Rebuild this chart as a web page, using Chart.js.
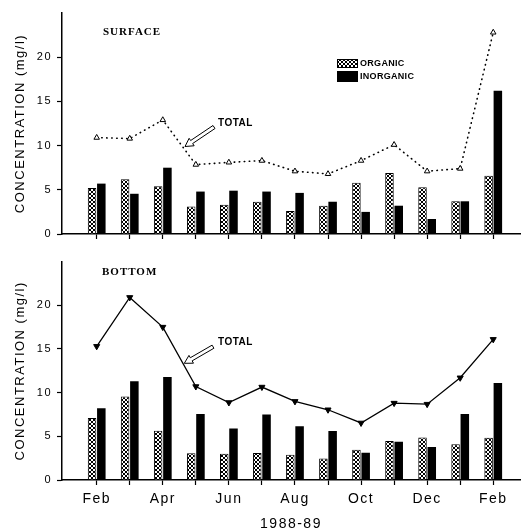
<!DOCTYPE html>
<html>
<head>
<meta charset="utf-8">
<title>Concentration 1988-89</title>
<script src="https://cdn.jsdelivr.net/npm/chart.js@4/dist/chart.umd.min.js"></script>
<style>
  body { margin: 0; background: #fff; }
  canvas { display: block; }
</style>
</head>
<body>
<canvas id="surfaceChart" width="527" height="250"></canvas>
<canvas id="bottomChart" width="527" height="280"></canvas>
<script>
// --- datos (mg/l) ---
const months = ['Feb', 'Mar', 'Apr', 'May', 'Jun', 'Jul', 'Aug', 'Sep', 'Oct', 'Nov', 'Dec', 'Jan', 'Feb'];
const yTicks = [0, 5, 10, 15, 20];

const surfaceOrganic   = [5.2, 6.2, 5.4, 3.1, 3.3, 3.65, 2.6, 3.2, 5.8, 6.9, 5.3, 3.7, 6.6];
const surfaceInorganic = [5.7, 4.55, 7.5, 4.8, 4.9, 4.8, 4.65, 3.65, 2.5, 3.2, 1.7, 3.7, 16.2];
const surfaceTotal     = [10.9, 10.8, 12.9, 7.85, 8.1, 8.3, 7.1, 6.8, 8.3, 10.1, 7.1, 7.4, 22.8];

const bottomOrganic    = [7.1, 9.55, 5.65, 3.06, 3.0, 3.1, 2.9, 2.45, 3.47, 4.45, 4.87, 4.08, 4.83];
const bottomInorganic  = [8.2, 11.3, 11.8, 7.55, 5.9, 7.5, 6.15, 5.6, 3.13, 4.38, 3.77, 7.55, 11.1];
const bottomTotal      = [15.3, 20.9, 17.5, 10.7, 8.87, 10.64, 9.0, 8.04, 6.53, 8.8, 8.68, 11.7, 16.1];

const FONT = "'Liberation Sans', Arial, sans-serif";
const SERIF = "'Liberation Serif', 'Times New Roman', serif";

Chart.defaults.font.family = FONT;
Chart.defaults.color = '#000';

// trama cruzada para las barras "organic"
function makeHatch(ctx) {
    const c = document.createElement('canvas');
    c.width = 4; c.height = 4;
    const g = c.getContext('2d');
    g.fillStyle = '#fff';
    g.fillRect(0, 0, 4, 4);
    g.fillStyle = '#000';
    for (let i = 0; i < 4; i++) {
        g.fillRect(i, i, 1, 1);
        g.fillRect(3 - i, i, 1, 1);
    }
    return ctx.createPattern(c, 'repeat');
}

function toPoints(arr) {
    return arr.map((v, i) => ({ x: i, y: v }));
}

// flecha hueca que apunta a la linea del total
function drawArrow(ctx, x1, y1, x2, y2) {
    const dx = x2 - x1, dy = y2 - y1;
    const len = Math.hypot(dx, dy);
    const ux = dx / len, uy = dy / len;
    const nx = -uy, ny = ux;
    const hw = 1.8, hhw = 4.5, hl = 8;
    const bx = x2 - ux * hl, by = y2 - uy * hl;
    ctx.beginPath();
    ctx.moveTo(x1 + nx * hw, y1 + ny * hw);
    ctx.lineTo(bx + nx * hw, by + ny * hw);
    ctx.lineTo(bx + nx * hhw, by + ny * hhw);
    ctx.lineTo(x2, y2);
    ctx.lineTo(bx - nx * hhw, by - ny * hhw);
    ctx.lineTo(bx - nx * hw, by - ny * hw);
    ctx.lineTo(x1 - nx * hw, y1 - ny * hw);
    ctx.closePath();
    ctx.fillStyle = '#fff';
    ctx.fill();
    ctx.strokeStyle = '#000';
    ctx.lineWidth = 1;
    ctx.stroke();
}

// espaciado de letras (la figura original tiene texto bastante espaciado)
const spacingPlugin = {
    id: 'spacing',
    beforeUpdate(chart) { chart.ctx.letterSpacing = '1.5px'; },
    beforeDraw(chart) { chart.ctx.letterSpacing = '1.5px'; }
};

// rotulos: SURFACE / BOTTOM, leyenda, TOTAL + flecha
const labelsPlugin = {
    id: 'labels',
    afterDraw(chart, args, opts) {
        const ctx = chart.ctx;
        ctx.save();
        ctx.letterSpacing = '1px';
        ctx.fillStyle = '#000';
        ctx.textBaseline = 'middle';
        ctx.textAlign = 'left';
        ctx.font = 'bold 11px ' + SERIF;
        ctx.fillText(opts.panel, opts.panelX, opts.panelY);

        ctx.letterSpacing = '0.5px';
        ctx.font = 'bold 10px ' + FONT;
        ctx.fillText('TOTAL', opts.totalX, opts.totalY);
        drawArrow(ctx, opts.arrow[0], opts.arrow[1], opts.arrow[2], opts.arrow[3]);

        if (opts.legend) {
            const lx = 337;
            ctx.fillStyle = opts.hatch;
            ctx.fillRect(lx, 59, 21, 9);
            ctx.strokeStyle = '#000';
            ctx.lineWidth = 1;
            ctx.strokeRect(lx + 0.5, 59.5, 20, 8);
            ctx.fillStyle = '#000';
            ctx.fillRect(lx, 71, 21, 11);
            ctx.font = 'bold 9px ' + FONT;
            ctx.letterSpacing = '0.3px';
            ctx.fillText('ORGANIC', 360, 64);
            ctx.fillText('INORGANIC', 360, 77);
        }
        ctx.restore();
    }
};

function buildChart(canvasId, organic, inorganic, total, opts) {
    const canvas = document.getElementById(canvasId);
    const ctx = canvas.getContext('2d');
    const hatch = makeHatch(ctx);

    return new Chart(ctx, {
        type: 'bar',
        data: {
            datasets: [
                {
                    type: 'line',
                    label: 'TOTAL',
                    data: toPoints(total),
                    borderColor: '#000',
                    borderWidth: opts.dotted ? 1.6 : 1.3,
                    borderDash: opts.dotted ? [0.5, 4.5] : [],
                    borderCapStyle: 'round',
                    tension: 0,
                    fill: false,
                    pointStyle: 'triangle',
                    pointRotation: opts.dotted ? 0 : 180,
                    pointRadius: opts.dotted ? 3.2 : 3.5,
                    pointBorderWidth: 1,
                    pointBorderColor: '#000',
                    pointBackgroundColor: opts.dotted ? '#fff' : '#000',
                    order: 0
                },
                {
                    label: 'ORGANIC',
                    data: toPoints(organic),
                    backgroundColor: hatch,
                    borderColor: '#000',
                    borderWidth: 1,
                    categoryPercentage: 0.56,
                    barPercentage: 0.92,
                    order: 1
                },
                {
                    label: 'INORGANIC',
                    data: toPoints(inorganic),
                    backgroundColor: '#000',
                    borderColor: '#000',
                    borderWidth: 0,
                    categoryPercentage: 0.56,
                    barPercentage: 0.92,
                    order: 1
                }
            ]
        },
        options: {
            responsive: false,
            animation: false,
            layout: { padding: { top: opts.padTop, right: 7, bottom: 0, left: 0 } },
            plugins: {
                legend: { display: false },
                tooltip: { enabled: false },
                labels: {
                    panel: opts.panel, panelX: opts.panelX, panelY: opts.panelY,
                    totalX: 218, totalY: opts.totalY,
                    arrow: opts.arrow,
                    legend: opts.legend,
                    hatch: hatch
                }
            },
            scales: {
                x: {
                    type: 'linear',
                    min: -1.05,
                    max: 12.81,
                    offset: false,
                    afterBuildTicks: (scale) => { scale.ticks = months.map((m, i) => ({ value: i })); },
                    afterFit: (scale) => { scale.height = opts.xHeight; },
                    grid: { drawOnChartArea: false, offset: false, color: '#000', tickLength: 5, tickWidth: 1.2 },
                    border: { color: '#000', width: 1.5 },
                    ticks: {
                        autoSkip: false,
                        maxRotation: 0,
                        padding: 6,
                        font: { size: 14 },
                        callback: (v) => (opts.showLabels && v % 2 === 0) ? months[v] : ''
                    },
                    title: {
                        display: opts.showLabels,
                        text: '1988-89',
                        font: { size: 14 },
                        padding: { top: 0, bottom: -3 }
                    }
                },
                y: {
                    min: 0,
                    max: 25,
                    afterBuildTicks: (scale) => { scale.ticks = yTicks.map(v => ({ value: v })); },
                    afterFit: (scale) => { scale.width = 62; },
                    grid: { drawOnChartArea: false, color: '#000', tickLength: 5, tickWidth: 1.2 },
                    border: { color: '#000', width: 1.5 },
                    ticks: { padding: 5, font: { size: 11 } },
                    title: {
                        display: true,
                        text: 'CONCENTRATION (mg/l)',
                        font: { size: 13 },
                        padding: { top: 13, bottom: 0 }
                    }
                }
            }
        },
        plugins: [spacingPlugin, labelsPlugin]
    });
}

buildChart('surfaceChart', surfaceOrganic, surfaceInorganic, surfaceTotal, {
    dotted: true, padTop: 13, xHeight: 16, showLabels: false,
    panel: 'SURFACE', panelX: 103, panelY: 32,
    totalY: 123, arrow: [214, 127, 185, 146.5],
    legend: true
});

buildChart('bottomChart', bottomOrganic, bottomInorganic, bottomTotal, {
    dotted: false, padTop: 10, xHeight: 50, showLabels: true,
    panel: 'BOTTOM', panelX: 102, panelY: 22,
    totalY: 92.7, arrow: [213, 96.7, 184.3, 113.3],
    legend: false
});
</script>
</body>
</html>
